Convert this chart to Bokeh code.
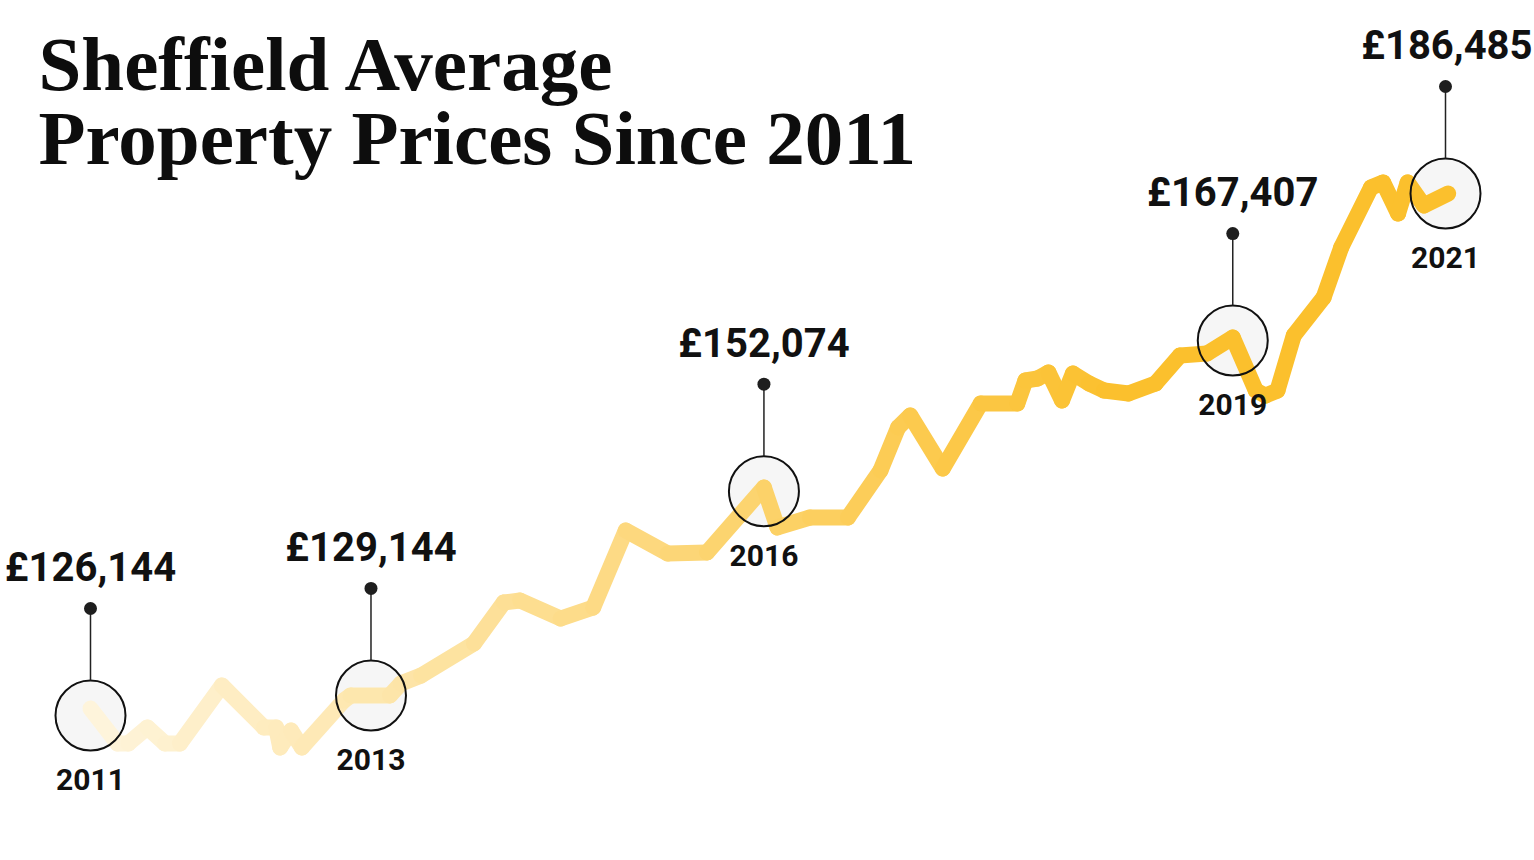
from bokeh.plotting import figure
from bokeh.models import Range1d, ColumnDataSource
from bokeh.core.properties import value
from bokeh.embed import file_html
from bokeh.resources import INLINE

# ---- data ----
dates = [2011.00, 2011.20, 2011.28, 2011.42, 2011.55, 2011.66, 2011.97, 2012.28, 2012.37, 2012.40,
         2012.48, 2012.56, 2012.87, 2012.92, 2013.21, 2013.29, 2013.44, 2013.83, 2014.05, 2014.17,
         2014.47, 2014.71, 2014.95, 2015.26, 2015.55, 2015.97, 2016.07, 2016.31, 2016.59, 2016.83,
         2016.96, 2017.05, 2017.29, 2017.57, 2017.84, 2017.90, 2017.99, 2018.07, 2018.17, 2018.25,
         2018.37, 2018.48, 2018.66, 2018.86, 2019.04, 2019.24, 2019.43, 2019.60, 2019.67, 2019.76,
         2019.88, 2020.10, 2020.23, 2020.45, 2020.54, 2020.65, 2020.72, 2020.84, 2021.02]
prices = [126950, 122910, 122910, 124760, 122910, 122910, 129610, 124760, 124760, 122450,
          124410, 122450, 127880, 128460, 128460, 129840, 130770, 134470, 139210, 139440,
          137360, 138630, 147530, 144870, 144990, 152500, 147880, 149030, 149030, 154470,
          159440, 160820, 154700, 162210, 162210, 164870, 165100, 165800, 162560, 165680,
          164520, 163710, 163370, 164520, 167760, 167990, 169840, 163710, 163130, 163710,
          170070, 174460, 180240, 187180, 187760, 184170, 187760, 185100, 186490]

marker_years = ["2011", "2013", "2016", "2019", "2021"]
marker_prices = ["£126,144", "£129,144", "£152,074", "£167,407", "£186,485"]
marker_dates = [2011.00, 2013.07, 2015.97, 2019.43, 2021.00]
marker_levels = [126144, 128460, 152074, 169490, 186485]

title_lines = ["Sheffield Average", "Property Prices Since 2011"]

# ---- layout ----
W, H = 1534, 860
PX_PER_YEAR = 135.5
GBP_PER_PX = 115.6
X0 = 2011 - 90 / PX_PER_YEAR
X1 = X0 + W / PX_PER_YEAR
Y_TOP = 126144 + 715 * GBP_PER_PX
Y_BOT = Y_TOP - H * GBP_PER_PX
EM_SHIFT = 0.37  # baseline correction of the svg text, in em


def sx(px):
    return X0 + px / PX_PER_YEAR


def sy(py):
    return Y_TOP - py * GBP_PER_PX


p = figure(width=W, height=H, output_backend="svg", toolbar_location=None,
           x_range=Range1d(X0, X1), y_range=Range1d(Y_BOT, Y_TOP),
           x_axis_location=None, y_axis_location=None, min_border=0,
           outline_line_color=None, background_fill_color="white",
           border_fill_color="white")
p.grid.visible = False

# circle fills (under the line)
msrc = ColumnDataSource(dict(x=marker_dates, y=marker_levels))
p.scatter("x", "y", source=msrc, size=70, fill_color="#f6f6f6", line_color=None)

# gradient line as short segments
BASE = (251, 192, 45)
x0s, y0s, x1s, y1s, cols = [], [], [], [], []
for i in range(len(dates) - 1):
    m = (dates[i] + dates[i + 1]) / 2
    t = min(1.0, max(0.0, (m - 2011) / 7.6))
    a = 0.16 + 0.84 * t
    c = tuple(int(round(255 - a * (255 - b))) for b in BASE)
    x0s.append(dates[i]); y0s.append(prices[i])
    x1s.append(dates[i + 1]); y1s.append(prices[i + 1])
    cols.append("#%02x%02x%02x" % c)
ssrc = ColumnDataSource(dict(x0=x0s, y0=y0s, x1=x1s, y1=y1s, c=cols))
p.segment("x0", "y0", "x1", "y1", source=ssrc, line_color="c", line_width=16,
          line_cap="round", line_join="round")

# circle outlines (above the line)
p.scatter("x", "y", source=msrc, size=70, fill_color=None, line_color="#111111", line_width=2)

# stems and dots
R = 35
stem_top = [lv + 107 * GBP_PER_PX for lv in marker_levels]
stem_bot = [lv + R * GBP_PER_PX for lv in marker_levels]
p.segment(marker_dates, stem_bot, marker_dates, stem_top, line_color="#222222", line_width=1.5)
p.scatter(marker_dates, stem_top, size=13, fill_color="#1e1e1e", line_color=None)

# price labels (the last one is kept inside the right edge)
price_y = [lv + (133 + EM_SHIFT * 40) * GBP_PER_PX for lv in marker_levels]
p.text(marker_dates[:-1], price_y[:-1], text=marker_prices[:-1],
       text_font=value("Roboto"), text_font_style="bold", text_font_size="40px",
       text_color="#111111", text_align="center", text_baseline="alphabetic")
p.text([marker_dates[-1] + 87 / PX_PER_YEAR], price_y[-1:], text=marker_prices[-1:],
       text_font=value("Roboto"), text_font_style="bold", text_font_size="40px",
       text_color="#111111", text_align="right", text_baseline="alphabetic")

# year labels
p.text(marker_dates, [lv - (75 - EM_SHIFT * 30) * GBP_PER_PX for lv in marker_levels],
       text=marker_years,
       text_font=value("Roboto"), text_font_style="bold", text_font_size="30px",
       text_color="#111111", text_align="center", text_baseline="alphabetic")

# title
p.text([sx(38), sx(38)], [sy(92 - EM_SHIFT * 77), sy(166 - EM_SHIFT * 77)], text=title_lines,
       text_font=value("Liberation Serif"), text_font_style="bold", text_font_size="77px",
       text_color="#0d0d0d", text_align="left", text_baseline="alphabetic")

open("out.html", "w").write(file_html(p, INLINE))
